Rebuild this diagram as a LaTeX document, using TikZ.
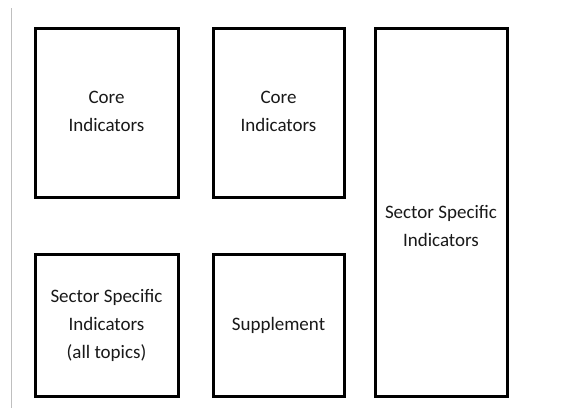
\documentclass[tikz,border=0pt]{standalone}
\usepackage{fontspec}
\setmainfont{Carlito}
\begin{document}
\begin{tikzpicture}[x=1pt,y=-1pt,
  panel/.style={draw=black, line width=3pt, fill=white, inner sep=0pt},
  caption/.style={font=\fontsize{19}{28}\selectfont, align=center, text=black!90}]
  \useasboundingbox (0,0) rectangle (576,408);
  % thin rule on the left
  \draw[black!25, line width=1pt] (11,8) -- (11,408);
  % boxes
  \node[panel, minimum width=143pt, minimum height=169pt] (core1) at (106.5,112.5) {};
  \node[panel, minimum width=131pt, minimum height=169pt] (core2) at (278.5,112.5) {};
  \node[panel, minimum width=132pt, minimum height=368pt] (sector) at (441,212) {};
  \node[panel, minimum width=143pt, minimum height=142pt] (sectorall) at (106.5,325) {};
  \node[panel, minimum width=131pt, minimum height=142pt] (supp) at (278.5,325) {};
  % texts
  \node[caption] (t1) at ([yshift=1.5pt]core1.center) {Core\\Indicators};
  \node[caption] (t2) at ([yshift=1.5pt]core2.center) {Core\\Indicators};
  \node[caption] (t3) at ([yshift=-14pt]sector.center) {Sector Specific\\Indicators};
  \node[caption] (t4) at (sectorall.center) {Sector Specific\\Indicators\\(all topics)};
  \node[caption] (t5) at (supp.center) {Supplement};
\end{tikzpicture}
\end{document}
